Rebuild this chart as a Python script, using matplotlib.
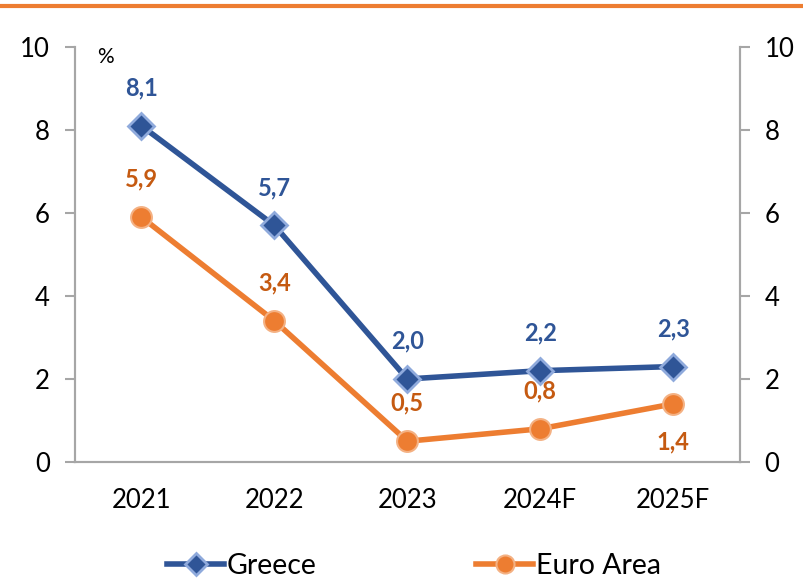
import matplotlib.pyplot as plt
from matplotlib.lines import Line2D

plt.rcParams['font.family'] = ['Lato', 'DejaVu Sans']

# data
years = ["2021", "2022", "2023", "2024F", "2025F"]
greece = [8.1, 5.7, 2.0, 2.2, 2.3]
euro_area = [5.9, 3.4, 0.5, 0.8, 1.4]
greece_labels = ["8,1", "5,7", "2,0", "2,2", "2,3"]
euro_labels = ["5,9", "3,4", "0,5", "0,8", "1,4"]
euro_label_below = [False, False, False, False, True]

blue = "#2F5597"
blue_edge = "#8FAADC"
orange = "#ED7D31"
orange_edge = "#F4B183"
orange_text = "#C55A11"
gray = "#A6A6A6"

fig = plt.figure(figsize=(8.04, 5.79), dpi=100)
ax = fig.add_axes([0.0933, 0.2021, 0.8267, 0.7167])

x = list(range(len(years)))
ax.plot(x, greece, color=blue, lw=4, marker="D", ms=13, mfc=blue,
        mec=blue_edge, mew=2, zorder=3)
ax.plot(x, euro_area, color=orange, lw=4, marker="o", ms=15, mfc=orange,
        mec=orange_edge, mew=1.5, zorder=3)

for i in x:
    ax.annotate(greece_labels[i], (i, greece[i]), xytext=(0, 19),
                textcoords="offset points", ha="center", va="bottom",
                fontsize=17, fontweight="bold", color=blue)
    if euro_label_below[i]:
        ax.annotate(euro_labels[i], (i, euro_area[i]), xytext=(0, -19),
                    textcoords="offset points", ha="center", va="top",
                    fontsize=17, fontweight="bold", color=orange_text)
    else:
        ax.annotate(euro_labels[i], (i, euro_area[i]), xytext=(0, 19),
                    textcoords="offset points", ha="center", va="bottom",
                    fontsize=17, fontweight="bold", color=orange_text)

ax.set_xlim(-0.5, len(years) - 0.5)
ax.set_ylim(0, 10)
ax.set_yticks([0, 2, 4, 6, 8, 10])
ax.set_xticks(x)
ax.set_xticklabels(years, fontsize=18.5)
ax.tick_params(axis="x", length=0, pad=19)
ax.tick_params(axis="y", labelsize=18.5, length=7, color=gray, width=1.5, pad=11)

ax2 = ax.twinx()
ax2.set_ylim(0, 10)
ax2.set_yticks([0, 2, 4, 6, 8, 10])
ax2.tick_params(axis="y", labelsize=18.5, length=7, color=gray, width=1.5, pad=11)

for a in (ax, ax2):
    a.spines["top"].set_visible(False)
    for s in ("left", "right", "bottom"):
        a.spines[s].set_color(gray)
        a.spines[s].set_linewidth(1.5)

ax.text(0.033, 0.975, "%", transform=ax.transAxes, fontsize=15, va="center")

# orange rule across the top
fig.add_artist(Line2D([0, 1], [0.989, 0.989], transform=fig.transFigure,
                      color=orange, lw=3))

handles = [
    Line2D([], [], color=blue, lw=4, marker="D", ms=11, mfc=blue, mec=blue_edge, mew=2),
    Line2D([], [], color=orange, lw=4, marker="o", ms=13, mfc=orange, mec=orange_edge, mew=1.5),
]
fig.legend(handles, ["Greece", "Euro Area"], loc="center", bbox_to_anchor=(0.515, 0.022),
           ncol=2, frameon=False, fontsize=20.5, handlelength=2.0, handletextpad=0.1,
           columnspacing=5.6)

fig.savefig("out.png", dpi=100)
